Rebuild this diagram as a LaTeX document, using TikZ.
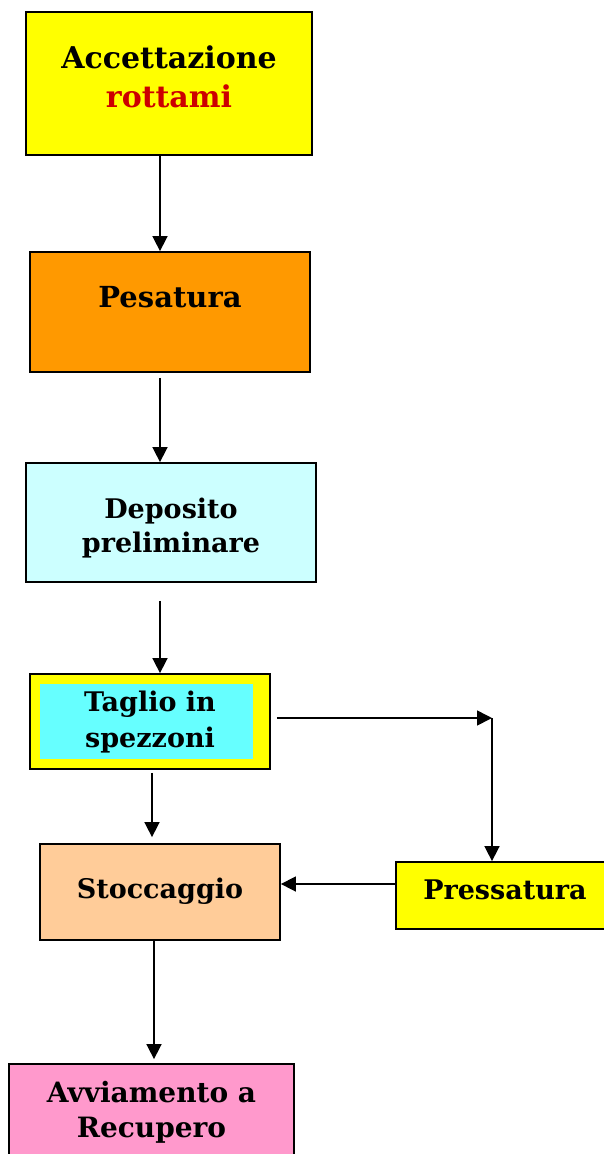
\documentclass[tikz,border=0pt]{standalone}
\usepackage{fontspec}
\setmainfont{DejaVu Serif}
\usetikzlibrary{arrows.meta}
\definecolor{cyel}{HTML}{FFFF00}
\definecolor{cred}{HTML}{CC0000}
\definecolor{corange}{HTML}{FF9900}
\definecolor{clcyan}{HTML}{CCFFFF}
\definecolor{ccyan}{HTML}{66FFFF}
\definecolor{cpeach}{HTML}{FFCC99}
\definecolor{cpink}{HTML}{FF99CC}
\newcommand{\bfsz}[2]{\bfseries\fontsize{#1}{#2}\selectfont}
\begin{document}
\begin{tikzpicture}[x=1pt,y=-1pt,
  box/.style={draw=black,line width=1.8pt,inner sep=0pt,align=center},
  lbl/.style={inner sep=0pt,align=center},
  arr/.style={line width=1.6pt,-{Triangle[length=15pt,width=15pt]}}]
\useasboundingbox (0,0) rectangle (604,1154);
\node[box,fill=cyel,minimum width=286pt,minimum height=143pt] (acc) at (169,83.5) {};
\node[lbl,font=\bfsz{30}{39}] (acct) at (169,77) {Accettazione\\\textcolor{cred}{rottami}};
\node[box,fill=corange,minimum width=280pt,minimum height=120pt] (pes) at (170,312) {};
\node[lbl,font=\bfsz{29}{36}] (pest) at (170,297) {Pesatura};
\node[box,fill=clcyan,minimum width=290pt,minimum height=119pt] (dep) at (171,522.5) {};
\node[lbl,font=\bfsz{27}{34}] (dept) at (171,528) {Deposito\\preliminare};
\node[box,fill=cyel,minimum width=240pt,minimum height=95pt] (tag) at (150,721.5) {};
\node[box,draw=none,fill=ccyan,minimum width=213pt,minimum height=75pt] (tagb) at (146.5,721.5) {};
\node[lbl,font=\bfsz{27}{36}] (tagt) at (150,722) {Taglio in\\spezzoni};
\node[box,fill=cpeach,minimum width=240pt,minimum height=96pt] (sto) at (160,892) {};
\node[lbl,font=\bfsz{27}{36}] (stot) at (160,891) {Stoccaggio};
\node[box,fill=cyel,minimum width=218pt,minimum height=67pt] (pre) at (505,895.5) {};
\node[lbl,font=\bfsz{27}{36}] (pret) at (505,890) {Pressatura};
\node[box,fill=cpink,minimum width=285pt,minimum height=94pt] (avv) at (151.5,1111) {};
\node[lbl,font=\bfsz{28}{35}] (avvt) at (151.5,1112) {Avviamento a\\Recupero};
\coordinate (corner) at (492,718);
\draw[arr] (acc.south -| 160,0) -- (pes.north -| 160,0);
\draw[arr] ([yshift=-5pt]pes.south -| 160,0) -- (dep.north -| 160,0);
\draw[arr,shorten <=18pt] (dep.south -| 160,0) -- (tag.north -| 160,0);
\draw[arr,shorten >=6pt] ([yshift=-3pt]tag.south -| 152,0) -- (sto.north -| 152,0);
\draw[arr,shorten <=6pt] (tag.east |- corner) -- (corner);
\draw[arr] (corner) -- (pre.north -| corner);
\draw[arr] (pre.west |- 0,884) -- (sto.east |- 0,884);
\draw[arr,shorten >=4pt] (sto.south -| 154,0) -- (avv.north -| 154,0);
\end{tikzpicture}
\end{document}
